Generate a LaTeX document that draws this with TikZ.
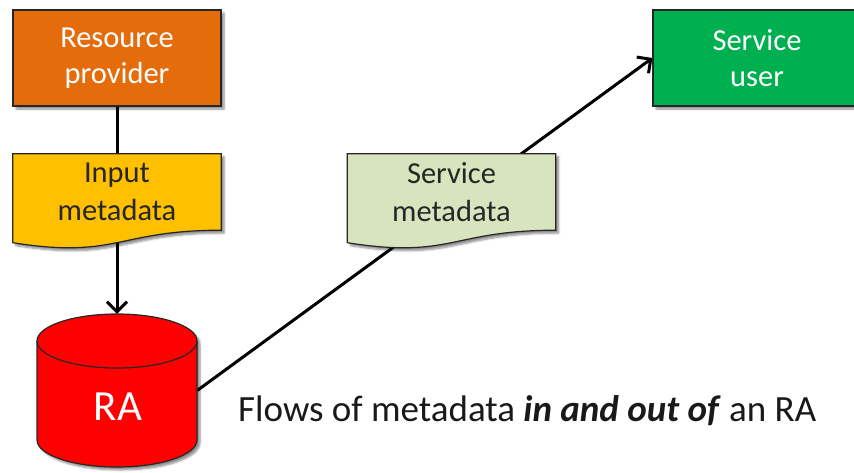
\documentclass[tikz,border=0pt]{standalone}
\usepackage{fontspec}
\setmainfont{Carlito}
\usetikzlibrary{arrows.meta,calc,shadows.blur}
\definecolor{rporange}{HTML}{E46C0A}
\definecolor{inpyellow}{HTML}{FFC000}
\definecolor{smdgreen}{HTML}{D7E4BD}
\definecolor{sugreen}{HTML}{00B050}
\definecolor{rared}{HTML}{FF0000}
\pgfdeclarelayer{bg}
\pgfdeclarelayer{mid}
\pgfsetlayers{bg,mid,main}
\begin{document}
\begin{tikzpicture}[x=1pt,y=-1pt,
  softshadow/.style={blur shadow={shadow xshift=3pt,shadow yshift=-3pt,shadow blur steps=6,shadow opacity=45}},
  boxnode/.style={draw=black!85,line width=1.2pt,minimum width=208pt,minimum height=96pt,inner sep=0pt,
    align=center,font=\fontsize{30.5}{36}\selectfont,text=white,softshadow},
  doctext/.style={minimum width=208pt,minimum height=76pt,inner sep=0pt,align=center,
    font=\fontsize{30.5}{38}\selectfont,text=black!85},
  docshape/.style={draw=black!85,line width=1.2pt,softshadow},
  cylshape/.style={draw=black!85,line width=1.2pt,fill=rared,softshadow},
  conn/.style={line width=3pt,black},
  arr/.style={conn,-{Straight Barb[length=10pt,width=20pt]}}]
\useasboundingbox (0,0) rectangle (854,472);
\node[boxnode,fill=rporange] (rp) at (117,58) {Resource\\provider};
\node[boxnode,fill=sugreen] (su) at (757,58) {Service\\user};
\node[doctext] (inp) at (117,192) {Input\\metadata};
\node[doctext] (smd) at (451.5,192) {Service\\metadata};
\node[minimum width=160pt,minimum height=153pt,inner sep=0pt] (ra) at (117,390.5) {};
\node[text=white,font=\fontsize{43}{50}\selectfont,inner sep=0pt] (ralabel) at (118,407) {RA};
\node[anchor=base west,inner sep=0pt,text=black!90,font=\fontsize{37}{42}\selectfont] (cap) at (238,421)
  {Flows of metadata \textbf{\textit{in and out of}} an RA};
\begin{pgfonlayer}{mid}
  \path[docshape,fill=inpyellow] (inp.north west) -- (inp.north east) -- (inp.south east)
    .. controls (inp.south) and ($(inp.south)+(0,29)$) .. ($(inp.south west)+(0,12.5)$) -- cycle;
  \path[docshape,fill=smdgreen] (smd.north west) -- (smd.north east) -- (smd.south east)
    .. controls (smd.south) and ($(smd.south)+(0,29)$) .. ($(smd.south west)+(0,12.5)$) -- cycle;
  \path[cylshape] (37,341) -- (37,440) arc[start angle=180,end angle=360,x radius=80pt,y radius=27pt]
    -- (197,341) arc[start angle=0,end angle=180,x radius=80pt,y radius=27pt] -- cycle;
  \draw[draw=black!85,line width=1.2pt] (37,341) arc[start angle=180,end angle=360,x radius=80pt,y radius=27pt];
\end{pgfonlayer}
\begin{pgfonlayer}{bg}
  \draw[conn] (rp.south) -- (inp.north);
  \draw[arr] (inp.south) -- (ra.north);
  \draw[arr] (ra.east) -- (su.west);
\end{pgfonlayer}
\end{tikzpicture}
\end{document}
